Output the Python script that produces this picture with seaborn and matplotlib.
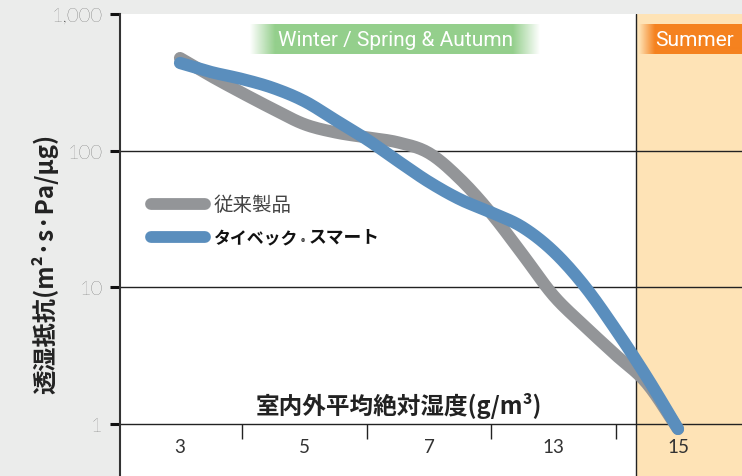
import numpy as np
import pandas as pd
import matplotlib
matplotlib.use("Agg")
import matplotlib.pyplot as plt
import seaborn as sns
from matplotlib.lines import Line2D

# ---------------- data ----------------
categories = ["3", "5", "7", "13", "15"]
cat_pos = [0, 1, 2, 3, 4]
sample_pos = [0, 0.25, 0.5, 0.75, 1, 1.25, 1.5, 1.75, 2, 2.25, 2.5, 2.75, 3, 3.25, 3.5, 3.75, 4]
conventional = [476, 351, 264, 201, 156, 136, 125, 115, 96, 62, 34.7, 17.5, 8.7, 5.2, 3.2, 1.98, 0.92]
tyvek_smart = [438, 376, 334, 287, 230, 167, 121, 84, 59, 44, 35.3, 27.6, 18.3, 10.2, 4.9, 2.2, 0.92]
series_names = ["従来製品", "タイベック® スマート"]
y_ticks = [1, 10, 100, 1000]
y_ticklabels = ["1", "10", "100", "1,000"]
season_split = 3.663


def smooth_render(xs, ys, steps=14):
    """Catmull-Rom rendering path in (x, log y) space for a smooth stroke."""
    x = np.asarray(xs, float)
    ly = np.log10(np.asarray(ys, float))
    P = np.column_stack([x, ly])
    P = np.vstack([P[0] * 2 - P[1], P, P[-1] * 2 - P[-2]])
    out = []
    t = np.linspace(0, 1, steps, endpoint=False)[:, None]
    for i in range(1, len(P) - 2):
        p0, p1, p2, p3 = P[i - 1], P[i], P[i + 1], P[i + 2]
        seg = 0.5 * ((2 * p1) + (-p0 + p2) * t + (2 * p0 - 5 * p1 + 4 * p2 - p3) * t ** 2
                     + (-p0 + 3 * p1 - 3 * p2 + p3) * t ** 3)
        out.append(seg)
    out.append(P[-2][None, :])
    out = np.vstack(out)
    return out[:, 0], 10 ** out[:, 1]


frames = []
for name, vals in zip(series_names, [conventional, tyvek_smart]):
    sx, sy = smooth_render(sample_pos, vals)
    frames.append(pd.DataFrame({"pos": sx, "value": sy, "product": name}))
df = pd.concat(frames, ignore_index=True)

# ---------------- style ----------------
sns.set_theme(style="white")
plt.rcParams["font.family"] = ["Noto Sans CJK JP", "DejaVu Sans"]

GREY = "#939598"
BLUE = "#5a8ebd"
BG = "#ebeceb"
SUMMER_BG = "#fee3b6"
TEXT = "#333333"

W, H = 742, 477
fig = plt.figure(figsize=(W / 100, H / 100), dpi=100)
fig.patch.set_facecolor(BG)


def fx(px):
    return px / W


def fy(py):
    return 1 - py / H


ax = fig.add_axes([fx(120), 0, 1 - fx(120), fy(15)])
ax.set_facecolor("white")
ax.set_yscale("log")
ax.set_xlim(-0.482, 4.514)
ax.set_ylim(0.4164, 1000)

# summer band
ax.axvspan(season_split, 4.514, color=SUMMER_BG, zorder=0, lw=0)
ax.axvline(season_split, color="#222222", lw=1.0, zorder=1)

# gridlines
for v in [1, 10, 100]:
    ax.axhline(v, color="#222222", lw=1.0, zorder=1)

# small separators under the x baseline
ax.vlines([0.5, 1.5, 2.5, 3.5], 0.777, 1, color="#222222", lw=1.0, zorder=1)

# lines
sns.lineplot(data=df, x="pos", y="value", hue="product", palette=[GREY, BLUE],
             hue_order=series_names, linewidth=8.8, legend=False, sort=False,
             ax=ax, zorder=3)
for ln in ax.lines:
    if len(ln.get_xdata()) > 10:
        ln.set_solid_capstyle("round")
        ln.set_solid_joinstyle("round")

# axes styling
for s in ["top", "right", "bottom"]:
    ax.spines[s].set_visible(False)
ax.spines["left"].set_color("#333333")
ax.spines["left"].set_linewidth(1.5)
ax.set_yticks(y_ticks)
ax.set_yticklabels(y_ticklabels)
ax.yaxis.set_minor_locator(matplotlib.ticker.NullLocator())
ax.tick_params(axis="y", which="major", direction="out", length=7.5, width=2.2,
               color="#111111", pad=5, labelsize=14.5, labelcolor=TEXT, left=True)
for t in ax.get_yticklabels():
    t.set_family(["Lato", "DejaVu Sans"])
    t.set_fontweight("light")

ax.set_xticks(cat_pos)
ax.set_xticklabels(categories)
ax.tick_params(axis="x", length=0, pad=-27, labelsize=13.5, labelcolor=TEXT)
for t in ax.get_xticklabels():
    t.set_family(["Lato", "DejaVu Sans"])
ax.set_xlabel("")
ax.set_ylabel("")

# axis titles
fig.text(fx(399), fy(406), "室内外平均絶対湿度(g/m³)", ha="center", va="center",
         fontsize=17, fontweight="bold", color="#222222")
fig.text(fx(45), fy(264), "透湿抵抗(m²·s·Pa/μg)", ha="center", va="center",
         rotation=90, fontsize=17.5, fontweight="bold", color="#222222")

# legend
fig.add_artist(Line2D([fx(151), fx(205)], [fy(205), fy(205)], color=GREY, lw=8.5,
                      solid_capstyle="round"))
fig.add_artist(Line2D([fx(151), fx(205)], [fy(238), fy(238)], color=BLUE, lw=8.5,
                      solid_capstyle="round"))
fig.text(fx(214), fy(205), series_names[0], ha="left", va="center", fontsize=14,
         color="#444444")
fig.text(fx(214), fy(238), "タイベック", ha="left", va="center", fontsize=12.2,
         fontweight="bold", color="#111111")
fig.text(fx(301), fy(243), "®", ha="left", va="center", fontsize=6.5,
         color="#111111")
fig.text(fx(309), fy(238), "スマート", ha="left", va="center", fontsize=12.8,
         fontweight="bold", color="#111111")


# gradient season labels
def grad_label(x0, x1, y0, y1, color, text, tx, fade_l, fade_r):
    lax = fig.add_axes([fx(x0), fy(y1), fx(x1) - fx(x0), (y1 - y0) / H])
    lax.axis("off")
    n = int(x1 - x0)
    xs = np.arange(n) + 0.5
    alpha = np.ones(n)
    if fade_l > 0:
        alpha = np.minimum(alpha, xs / fade_l)
    if fade_r > 0:
        alpha = np.minimum(alpha, (n - xs) / fade_r)
    rgb = matplotlib.colors.to_rgb(color)
    img = np.zeros((1, n, 4))
    img[..., 0], img[..., 1], img[..., 2] = rgb
    img[0, :, 3] = np.clip(alpha, 0, 1)
    lax.imshow(img, aspect="auto", extent=[0, 1, 0, 1], interpolation="bilinear")
    lax.set_xlim(0, 1)
    lax.set_ylim(0, 1)
    lax.text((tx - x0) / (x1 - x0), 0.48, text, ha="center", va="center",
             color="white", fontsize=15, family=["Roboto", "DejaVu Sans"],
             transform=lax.transAxes)


grad_label(250, 540, 25, 55, "#94cf8c", "Winter / Spring & Autumn", 395, 25, 27)
grad_label(639, 742, 25, 55, "#f5821f", "Summer", 694, 16, 0)

fig.savefig("out.png", dpi=100, facecolor=fig.get_facecolor())
